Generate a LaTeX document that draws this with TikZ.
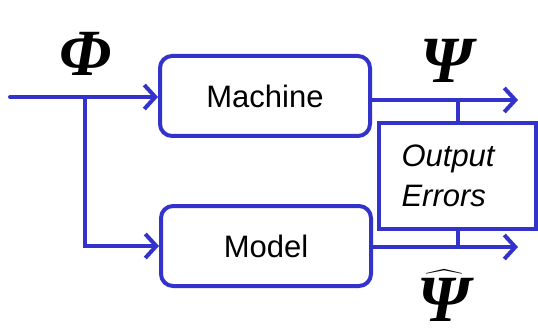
\documentclass[tikz,border=0pt]{standalone}
\usepackage{exscale}
\usepackage{fontspec}
\setmainfont{Liberation Sans}
\newfontfamily\greekfont{Liberation Serif}
\usetikzlibrary{arrows.meta}
\definecolor{linkblue}{RGB}{51,51,204}
\begin{document}
\begin{tikzpicture}[x=1pt,y=-1pt]
    % Stili
    \tikzstyle{block}=[draw=linkblue, line width=4pt, rounded corners=12pt, minimum width=210pt, minimum height=80pt, font=\fontsize{31}{36}\selectfont]
    \tikzstyle{errbox}=[draw=linkblue, line width=4pt, minimum width=157pt, minimum height=106pt]
    \tikzstyle{signal}=[linkblue, line width=4pt, line cap=round, -{Straight Barb[length=11pt,width=24pt]}]
    \tikzstyle{wire}=[linkblue, line width=4pt]
    \tikzstyle{symbol}=[font=\fontsize{66}{72}\selectfont\greekfont\bfseries\itshape, inner sep=0pt]
    \useasboundingbox (0,0) rectangle (538,334);

    % Blocchi
    \node[block] (machine) at (265,96) {Machine};
    \node[block] (model) at (266,246) {Model};
    \node[errbox] (errors) at (457.5,176) {};
    \node[anchor=west, align=left, font=\fontsize{31}{40}\selectfont\itshape] (errtext) at (398,176) {Output\\Errors};

    % Simboli
    \node[symbol] (phi) at (86,54) {Φ};
    \node[symbol] (psi) at (447,61) {Ψ};
    \node[symbol, anchor=north] (psihat) at (444,270) {$\widehat{\hbox{Ψ}}$};

    % Punti ausiliari
    \coordinate (in) at (10,97);
    \coordinate (split) at (85,97);
    \coordinate (outup) at (518,100);
    \coordinate (outdown) at (518,247);

    % Collegamenti
    \draw[signal] (in) -- (in -| machine.west);
    \draw[signal] (split) |- (model.west);
    \draw[signal] (machine.east |- outup) -- (outup);
    \draw[signal] (model.east |- outdown) -- (outdown);
    \draw[wire] (errors.north) -- (errors.north |- outup);
    \draw[wire] (errors.south) -- (errors.south |- outdown);
\end{tikzpicture}
\end{document}
